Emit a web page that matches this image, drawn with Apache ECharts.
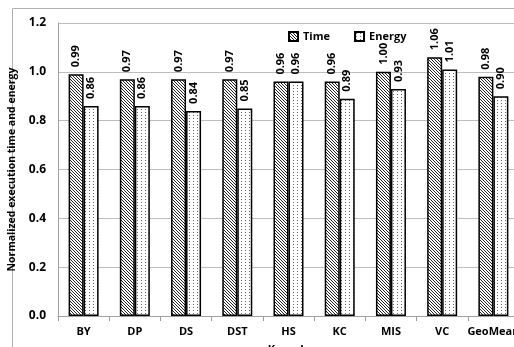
<!DOCTYPE html>
<html><head><meta charset="utf-8">
<script src="https://cdn.jsdelivr.net/npm/echarts@6/dist/echarts.min.js"></script>
<style>html,body{margin:0;padding:0;background:#fff}#c{width:514px;height:347px}</style>
</head><body><div id="c"></div>
<script>
const categories = ['BY','DP','DS','DST','HS','KC','MIS','VC','GeoMean'];
const timeValues = [0.99,0.97,0.97,0.97,0.96,0.96,1.00,1.06,0.98];
const energyValues = [0.86,0.86,0.84,0.85,0.96,0.89,0.93,1.01,0.90];
const seriesNames = ['Time','Energy'];

function hatch(){
  const c=document.createElement('canvas');c.width=3;c.height=3;
  const g=c.getContext('2d');g.fillStyle='#fff';g.fillRect(0,0,3,3);
  g.fillStyle='#222';
  for(let i=0;i<3;i++){g.fillRect(i,i,1,1);}
  return c;
}
function dots(){
  const c=document.createElement('canvas');c.width=4;c.height=3;
  const g=c.getContext('2d');g.fillStyle='#fff';g.fillRect(0,0,4,3);
  g.fillStyle='#666';g.fillRect(1,1,1,1);
  return c;
}
const font='Open Sans';
const chart=echarts.init(document.getElementById('c'));
const lbl={show:true,position:'top',rotate:90,align:'left',verticalAlign:'middle',distance:7,
  fontFamily:font,fontWeight:'bold',fontSize:11,color:'#000',formatter:p=>p.value.toFixed(2)};
chart.setOption({
  animation:false,
  graphic:[{type:'rect',shape:{x:12.5,y:8.5,width:700,height:500},style:{fill:'none',stroke:'#b0b0b0',lineWidth:1},z:-1}],
  legend:{top:26,left:283,itemWidth:9,itemHeight:9,itemGap:24,itemTextGap:4,icon:'rect',
    textStyle:{fontFamily:font,fontWeight:'bold',fontSize:11,color:'#000'},data:seriesNames},
  grid:{left:58,top:23,width:461,height:293,outerBoundsMode:'none',containLabel:false},
  xAxis:{type:'category',data:categories,name:'Kernels',nameLocation:'middle',nameGap:28,
    nameTextStyle:{fontFamily:font,fontWeight:'bold',fontSize:11,color:'#000'},
    axisLine:{lineStyle:{color:'#a0a0a0'}},axisTick:{show:true,length:5,lineStyle:{color:'#a0a0a0'}},
    axisLabel:{interval:0,fontFamily:font,fontWeight:'bold',fontSize:11,color:'#000',margin:10}},
  yAxis:{type:'value',min:0,max:1.2,interval:0.2,name:'Normalized execution time and energy',
    nameLocation:'middle',nameGap:37,nameTextStyle:{fontFamily:font,fontWeight:'bold',fontSize:10.5,color:'#000'},
    axisLine:{show:true,lineStyle:{color:'#a0a0a0'}},axisTick:{show:false},
    splitLine:{lineStyle:{color:'#bdbdbd',width:1}},
    axisLabel:{fontFamily:font,fontWeight:'bold',fontSize:12,color:'#000',margin:12,formatter:v=>v.toFixed(1)}},
  series:[
    {name:seriesNames[0],type:'bar',data:timeValues,barWidth:15,barGap:'0%',
     itemStyle:{color:{image:hatch(),repeat:'repeat'},borderColor:'#000',borderWidth:1.5},label:lbl},
    {name:seriesNames[1],type:'bar',data:energyValues,barWidth:15,barGap:'0%',
     itemStyle:{color:{image:dots(),repeat:'repeat'},borderColor:'#000',borderWidth:1.5},label:lbl}
  ]
});
</script></body></html>
